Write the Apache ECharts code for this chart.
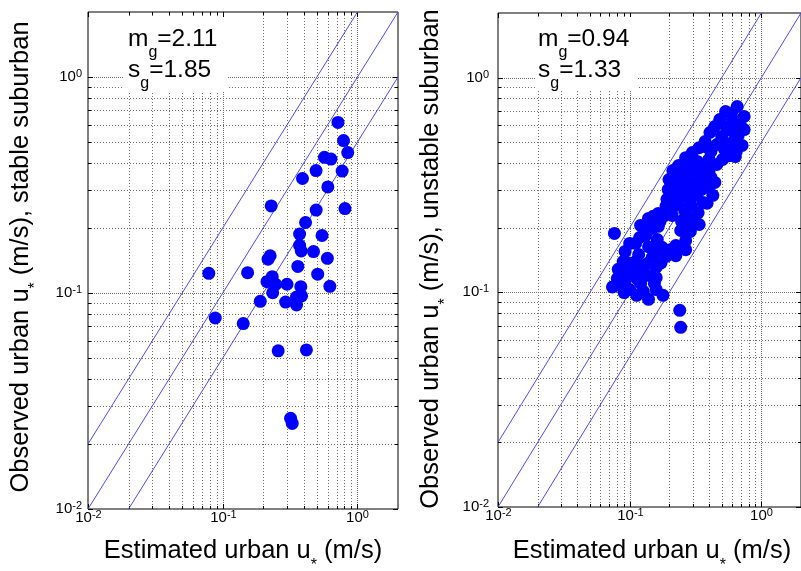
<!DOCTYPE html>
<html><head><meta charset="utf-8">
<script src="https://cdn.jsdelivr.net/npm/echarts@6/dist/echarts.min.js"></script>
<style>html,body{margin:0;padding:0;background:#fff}#main{width:801px;height:571px}</style>
</head><body><div id="main"></div>
<script>
// ---- data ----
const axisMin = 0.01, axisMax = 2;
const majorTicks = [0.01, 0.1, 1];
const tickExponents = ['-2', '-1', '0'];
const minorTicks = [0.02,0.03,0.04,0.05,0.06,0.07,0.08,0.09,0.2,0.3,0.4,0.5,0.6,0.7,0.8,0.9];
const ratioLines = [2, 1, 0.5];

const stableEstimated = [0.717,0.788,0.847,0.569,0.636,0.493,0.770,0.391,0.603,0.229,0.494,0.808,0.412,0.372,0.546,0.372,0.383,0.472,0.225,0.217,0.598,0.361,0.0788,0.153,0.507,0.233,0.213,0.247,0.300,0.380,0.624,0.235,0.190,0.293,0.353,0.385,0.353,0.088,0.142,0.258,0.418,0.319,0.328];
const stableObserved = [0.616,0.508,0.447,0.425,0.417,0.369,0.367,0.339,0.310,0.253,0.242,0.246,0.212,0.1875,0.1846,0.166,0.1565,0.1556,0.1488,0.1434,0.1447,0.1327,0.1234,0.1242,0.1222,0.119,0.1128,0.1097,0.1098,0.107,0.1074,0.1003,0.0915,0.0908,0.0958,0.0969,0.088,0.0766,0.0722,0.054,0.0545,0.0263,0.0249];

const unstableEstimated = [0.655,0.535,0.740,0.603,0.483,0.740,0.443,0.544,0.667,0.407,
0.500,0.603,0.374,0.459,0.645,0.337,0.414,0.526,0.299,0.634,
0.508,0.266,0.326,0.400,0.236,0.289,0.361,0.459,0.213,0.261,
0.320,0.400,0.199,0.244,0.299,0.374,0.196,0.236,0.285,0.349,
0.428,0.192,0.232,0.289,0.361,0.189,0.261,0.331,0.165,0.210,
0.299,0.139,0.170,0.248,0.121,0.148,0.337,0.289,0.244,0.0766,
0.132,0.162,0.111,0.139,0.176,0.224,0.266,0.0923,0.117,0.148,
0.189,0.224,0.0988,0.125,0.159,0.0819,0.106,0.136,0.0923,0.121,
0.154,0.0740,0.100,0.127,0.159,0.179,0.0833,0.113,0.139,0.240,
0.244,
0.593,0.691,0.593,0.491,0.714,0.393,0.573,0.220,0.331,0.414,
0.213,0.261,0.320,0.393,0.210,0.261,0.320,0.387,0.213,0.294,
0.151,0.185,0.266,0.134,0.165,0.280,0.119,0.266,0.100,0.159,
0.203,0.0892,0.111,0.139,0.173,0.0923,0.119,0.0805,0.113,0.159,
0.0908,0.443];
const unstableObserved = [0.733,0.695,0.659,0.638,0.638,0.573,0.592,0.586,0.537,0.555,
0.532,0.499,0.504,0.488,0.453,0.472,0.453,0.463,0.448,0.429,
0.416,0.424,0.407,0.416,0.390,0.386,0.381,0.394,0.369,0.357,
0.354,0.365,0.335,0.328,0.324,0.335,0.301,0.295,0.298,0.301,
0.283,0.271,0.262,0.271,0.262,0.252,0.243,0.235,0.233,0.228,
0.219,0.221,0.214,0.214,0.205,0.198,0.207,0.192,0.194,0.188,
0.184,0.176,0.169,0.163,0.162,0.165,0.158,0.155,0.150,0.145,
0.147,0.148,0.137,0.134,0.131,0.128,0.123,0.120,0.113,0.110,
0.110,0.106,0.103,0.101,0.103,0.0968,0.108,0.0968,0.0928,0.0824,
0.0687,
0.680,0.598,0.567,0.499,0.483,0.472,0.433,0.343,0.343,0.343,
0.311,0.311,0.311,0.308,0.280,0.280,0.283,0.260,0.249,0.252,
0.226,0.228,0.228,0.203,0.203,0.203,0.180,0.174,0.169,0.155,
0.158,0.139,0.139,0.137,0.137,0.125,0.124,0.116,0.116,0.117,
0.0997,0.325];

const statM = ['2.11', '0.94'];
const statS = ['1.85', '1.33'];
const xTitle = 'Estimated urban u';
const yTitles = [' (m/s), stable suburban', ' (m/s), unstable suburban'];

// ---- rendering ----
const FONT = '"Liberation Sans", Arial, Helvetica, sans-serif';
const GRID_COLOR = '#6e6e6e';
const tickData = majorTicks.map(v => [v, 1, 1]).concat(minorTicks.map(v => [v, 1, 0]));
const tickDataY = majorTicks.map(v => [1, v, 1]).concat(minorTicks.map(v => [1, v, 0]));
const labelRich = {
  b: {fontSize: 15, lineHeight: 18, padding: [1, 0, 0, 0], verticalAlign: 'top', fontFamily: FONT, fill: '#000'},
  p: {fontSize: 11, lineHeight: 12, verticalAlign: 'top', fontFamily: FONT, fill: '#000'}
};
function labelText(v) {
  const i = majorTicks.indexOf(v);
  return '{b|10}{p|' + tickExponents[i] + '}';
}
function xTicksRender(params, api) {
  const cs = params.coordSys;
  const v = api.value(0), major = api.value(2) === 1;
  const x = Math.round(api.coord([v, 1])[0]) + 0.5;
  const top = cs.y, bot = cs.y + cs.height;
  const len = major ? 5 : 3;
  const ch = [];
  if (v > axisMin * 1.0001) ch.push({type: 'line', shape: {x1: x, y1: top, x2: x, y2: bot}, style: {stroke: GRID_COLOR, lineWidth: 1, lineDash: major ? [1, 1] : [1, 2]}});
  ch.push({type: 'line', shape: {x1: x, y1: bot, x2: x, y2: bot - len}, style: {stroke: '#000', lineWidth: 1}});
  ch.push({type: 'line', shape: {x1: x, y1: top, x2: x, y2: top + len}, style: {stroke: '#000', lineWidth: 1}});
  if (major) ch.push({type: 'text', x: x, y: bot, style: {text: labelText(v), rich: labelRich, align: 'center', verticalAlign: 'top', fill: '#000'}});
  return {type: 'group', children: ch};
}
function yTicksRender(gap) {
  return function (params, api) {
    const cs = params.coordSys;
    const v = api.value(1), major = api.value(2) === 1;
    const y = Math.round(api.coord([1, v])[1]) + 0.5;
    const left = cs.x, right = cs.x + cs.width;
    const len = major ? 5 : 3;
    const ch = [];
    if (v > axisMin * 1.0001) ch.push({type: 'line', shape: {x1: left, y1: y, x2: right, y2: y}, style: {stroke: GRID_COLOR, lineWidth: 1, lineDash: major ? [1, 1] : [1, 2]}});
    ch.push({type: 'line', shape: {x1: left, y1: y, x2: left + len, y2: y}, style: {stroke: '#000', lineWidth: 1}});
    ch.push({type: 'line', shape: {x1: right, y1: y, x2: right - len, y2: y}, style: {stroke: '#000', lineWidth: 1}});
    if (major) ch.push({type: 'text', x: left - gap, y: y, style: {text: labelText(v), rich: labelRich, align: 'right', verticalAlign: 'middle', fill: '#000'}});
    return {type: 'group', children: ch};
  };
}
function refLine(r) {
  const x1 = Math.max(axisMin, axisMin / r), x2 = Math.min(axisMax, axisMax / r);
  return [[x1, r * x1], [x2, r * x2]];
}

const grids = [
  {left: 88, top: 12, width: 310, height: 497},
  {left: 498, top: 13, width: 310, height: 494}
];
const panels = [
  {xs: stableEstimated, ys: stableObserved, gap: 6},
  {xs: unstableEstimated, ys: unstableObserved, gap: 9}
];

const series = [];
panels.forEach((p, gi) => {
  series.push({type: 'custom', coordinateSystem: 'cartesian2d', xAxisIndex: gi, yAxisIndex: gi, data: tickData, encode: {x: 0, y: 1}, renderItem: xTicksRender, silent: true, z: 1, clip: false});
  series.push({type: 'custom', coordinateSystem: 'cartesian2d', xAxisIndex: gi, yAxisIndex: gi, data: tickDataY, encode: {x: 0, y: 1}, renderItem: yTicksRender(p.gap), silent: true, z: 1, clip: false});
  ratioLines.forEach(r => series.push({type: 'line', xAxisIndex: gi, yAxisIndex: gi, data: refLine(r), showSymbol: false, symbol: 'none', lineStyle: {color: '#4a4aff', width: 1}, silent: true, z: 2}));
  series.push({type: 'scatter', xAxisIndex: gi, yAxisIndex: gi, data: p.xs.map((x, i) => [x, p.ys[i]]), symbol: 'circle', symbolSize: 13, itemStyle: {color: '#0000ff', opacity: 1}, z: 3});
});

const axisBase = {type: 'log', logBase: 10, min: axisMin, max: axisMax, axisLine: {show: false}, axisTick: {show: false}, axisLabel: {show: false}, splitLine: {show: false}};

const statRich = {
  m: {fontSize: 24.5, lineHeight: 24, verticalAlign: 'top', fontFamily: FONT, fill: '#000'},
  g: {fontSize: 16, lineHeight: 16, padding: [18, 0, 0, 0], verticalAlign: 'top', fontFamily: FONT, fill: '#000'}
};
const titleRich = {
  a: {fontSize: 25.5, lineHeight: 30, verticalAlign: 'top', fontFamily: FONT, fill: '#000'},
  s: {fontSize: 16, lineHeight: 16, padding: [20, 0, 0, 0], verticalAlign: 'top', fontFamily: FONT, fill: '#000'}
};
const graphic = [];
const statX = [128, 538], boxX = [123, 535], boxW = [105, 103];
const xTitleCx = [243, 652], yTitleTop = [8, 418], yTitleCy = [257, 259];
[0, 1].forEach(i => {
  graphic.push({type: 'rect', shape: {x: boxX[i], y: 17, width: boxW[i], height: 74}, style: {fill: '#fff'}, z: 100, silent: true});
  graphic.push({type: 'text', x: statX[i], y: 26.7, z: 101, style: {text: '{m|m}{g|g}{m|=' + statM[i] + '}', rich: statRich, align: 'left', verticalAlign: 'top'}});
  graphic.push({type: 'text', x: statX[i], y: 57.7, z: 101, style: {text: '{m|s}{g|g}{m|=' + statS[i] + '}', rich: statRich, align: 'left', verticalAlign: 'top'}});
  graphic.push({type: 'text', x: xTitleCx[i], y: 538, z: 101, style: {text: '{a|' + xTitle + '}{s|*}{a| (m/s)}', rich: titleRich, align: 'center', verticalAlign: 'top'}});
  graphic.push({type: 'text', x: yTitleTop[i], y: yTitleCy[i], rotation: Math.PI / 2, z: 101, style: {text: '{a|Observed urban u}{s|*}{a|' + yTitles[i] + '}', rich: titleRich, align: 'center', verticalAlign: 'top'}});
});

const chart = echarts.init(document.getElementById('main'), null, {renderer: 'canvas'});
chart.setOption({
  animation: false,
  backgroundColor: '#fff',
  grid: grids.map(g => Object.assign({show: true, borderColor: '#000', borderWidth: 1, backgroundColor: 'transparent', containLabel: false}, g)),
  xAxis: [Object.assign({gridIndex: 0}, axisBase), Object.assign({gridIndex: 1}, axisBase)],
  yAxis: [Object.assign({gridIndex: 0}, axisBase), Object.assign({gridIndex: 1}, axisBase)],
  series: series,
  graphic: {elements: graphic}
});
</script>
</body></html>
